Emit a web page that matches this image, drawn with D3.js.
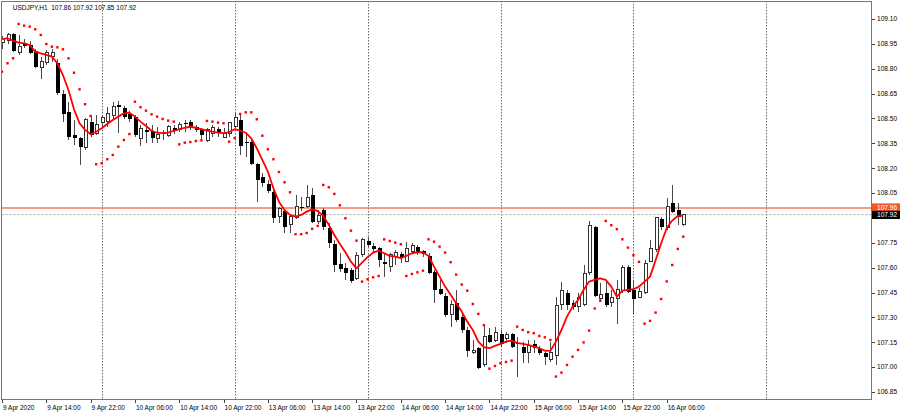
<!DOCTYPE html>
<html><head><meta charset="utf-8">
<script src="https://cdn.jsdelivr.net/npm/d3@7"></script>
<style>html,body{margin:0;padding:0;background:#fff;overflow:hidden}
svg{display:block;font-family:"Liberation Sans",Arial,sans-serif}</style>
</head><body><svg id="c" width="900" height="415"></svg>
<script>
// ---- DATA (USDJPY, H1) ----
const symbolTitle = "USDJPY,H1";
const lastBarText = "107.86 107.92 107.85 107.92";
const open = [
108.961,108.973,109.010,108.895,108.955,108.943,108.907,108.810,108.835,108.871,
108.835,108.648,108.539,108.400,108.382,108.322,108.479,108.412,108.473,108.479,
108.515,108.581,108.563,108.527,108.509,108.382,108.431,108.424,108.382,108.412,
108.400,108.443,108.431,108.473,108.479,108.449,108.437,108.370,108.412,108.437,
108.388,108.412,108.449,108.491,108.358,108.358,108.226,108.147,108.105,108.057,
107.906,107.942,107.858,107.900,107.966,107.966,108.039,107.876,107.948,107.840,
107.743,107.622,107.598,107.586,107.532,107.677,107.761,107.731,107.719,107.634,
107.610,107.665,107.683,107.640,107.695,107.725,107.701,107.671,107.574,107.472,
107.429,107.315,107.387,107.303,107.224,107.086,107.116,107.013,107.194,107.158,
107.200,107.170,107.200,107.146,107.122,107.086,107.140,107.110,107.086,107.049,
107.068,107.375,107.448,107.387,107.363,107.375,107.568,107.846,107.417,107.448,
107.387,107.417,107.460,107.604,107.466,107.423,107.448,107.640,107.707,107.894,
107.840,107.990,107.948,107.86];
const high = [
108.997,109.016,109.016,109.004,108.979,108.967,108.919,108.871,108.913,108.919,
108.859,108.672,108.600,108.491,108.388,108.503,108.509,108.521,108.521,108.569,
108.600,108.605,108.575,108.545,108.521,108.461,108.473,108.461,108.449,108.431,
108.461,108.461,108.479,108.491,108.491,108.461,108.443,108.443,108.461,108.449,
108.443,108.479,108.533,108.533,108.412,108.382,108.232,108.171,108.129,108.069,
107.966,107.948,107.918,108.039,108.026,108.099,108.081,107.948,107.960,107.870,
107.767,107.689,107.628,107.598,107.695,107.779,107.785,107.749,107.725,107.689,
107.689,107.707,107.695,107.755,107.749,107.737,107.707,107.689,107.586,107.526,
107.447,107.405,107.466,107.327,107.242,107.164,107.122,107.261,107.236,107.242,
107.224,107.212,107.206,107.182,107.152,107.164,107.164,107.128,107.104,107.152,
107.423,107.514,107.466,107.405,107.448,107.616,107.882,107.852,107.508,107.526,
107.466,107.526,107.616,107.616,107.526,107.478,107.647,107.767,107.906,107.906,
108.020,108.099,107.990,107.92];
const low = [
108.919,108.949,108.901,108.883,108.925,108.889,108.804,108.738,108.823,108.841,
108.642,108.479,108.370,108.340,108.220,108.310,108.388,108.400,108.443,108.449,
108.491,108.412,108.497,108.479,108.388,108.334,108.352,108.352,108.352,108.370,
108.388,108.406,108.418,108.418,108.431,108.418,108.370,108.358,108.388,108.388,
108.382,108.388,108.443,108.280,108.268,108.220,107.996,108.087,108.051,107.870,
107.870,107.809,107.809,107.894,107.942,107.960,107.870,107.864,107.827,107.719,
107.574,107.574,107.526,107.508,107.526,107.665,107.725,107.695,107.604,107.544,
107.574,107.616,107.628,107.634,107.683,107.677,107.665,107.562,107.387,107.436,
107.303,107.242,107.273,107.206,107.061,107.080,106.989,107.001,107.146,107.152,
107.122,107.146,107.116,106.941,107.025,107.025,107.086,107.074,107.013,107.031,
107.013,107.345,107.345,107.345,107.333,107.369,107.556,107.423,107.393,107.363,
107.363,107.261,107.448,107.448,107.321,107.417,107.442,107.634,107.695,107.827,
107.827,107.930,107.858,107.85];
const close = [
108.985,109.004,108.907,108.937,108.937,108.895,108.810,108.841,108.895,108.895,
108.654,108.527,108.388,108.382,108.328,108.491,108.400,108.461,108.503,108.527,
108.575,108.569,108.509,108.497,108.400,108.437,108.418,108.382,108.406,108.406,
108.449,108.424,108.461,108.470,108.455,108.431,108.400,108.431,108.443,108.412,
108.412,108.473,108.503,108.334,108.352,108.226,108.129,108.111,108.063,107.900,
107.954,107.846,107.906,107.966,107.960,108.026,107.876,107.912,107.846,107.749,
107.616,107.592,107.568,107.520,107.671,107.767,107.737,107.713,107.646,107.622,
107.677,107.689,107.659,107.713,107.731,107.689,107.683,107.568,107.466,107.441,
107.315,107.375,107.285,107.224,107.098,107.098,106.995,107.182,107.152,107.206,
107.140,107.194,107.122,107.140,107.086,107.128,107.116,107.086,107.062,107.086,
107.369,107.460,107.375,107.363,107.423,107.562,107.852,107.429,107.441,107.375,
107.423,107.466,107.598,107.454,107.411,107.454,107.628,107.713,107.900,107.846,
107.966,107.936,107.906,107.92];
// red moving average line
const maValues = [
108.979,108.984,108.969,108.957,108.953,108.943,108.903,108.893,108.883,108.873,
108.833,108.762,108.672,108.555,108.471,108.431,108.405,108.420,108.441,108.467,
108.491,108.511,108.531,108.535,108.511,108.481,108.455,108.426,108.414,108.411,
108.414,108.425,108.435,108.444,108.450,108.444,108.435,108.426,108.420,108.414,
108.411,108.417,108.435,108.426,108.414,108.380,108.320,108.250,108.179,108.079,
107.998,107.948,107.918,107.908,107.918,107.938,107.952,107.942,107.912,107.858,
107.797,107.743,107.693,107.636,107.596,107.630,107.663,107.691,107.703,107.687,
107.671,107.667,107.657,107.671,107.687,107.693,107.693,107.671,107.606,107.546,
107.486,107.436,107.385,107.335,107.274,107.224,107.154,107.120,107.114,107.128,
107.140,107.154,107.160,107.146,107.140,107.134,107.124,107.114,107.100,107.098,
107.154,107.224,107.305,107.365,107.405,107.466,107.516,107.526,107.536,107.526,
107.486,107.425,107.461,107.466,107.470,107.486,107.516,107.546,107.645,107.747,
107.838,107.884,107.912,107.914];
// parabolic SAR dots
const sarValues = [
108.782,108.833,108.863,109.070,109.060,109.054,109.038,109.004,108.949,108.933,
108.929,108.917,108.863,108.776,108.676,108.586,108.515,108.224,108.230,108.254,
108.280,108.330,108.370,108.406,108.601,108.568,108.547,108.525,108.511,108.497,
108.487,108.481,108.344,108.354,108.358,108.364,108.368,108.485,108.481,108.475,
108.471,108.360,108.382,108.527,108.537,108.537,108.495,108.396,108.314,108.254,
108.177,108.115,108.055,107.802,107.802,107.809,107.834,107.852,108.099,108.085,
108.045,107.976,107.898,107.823,107.763,107.516,107.530,107.542,107.550,107.771,
107.761,107.751,107.741,107.550,107.562,107.572,107.582,107.771,107.757,107.727,
107.691,107.633,107.558,107.498,107.461,107.381,107.321,107.253,106.991,107.007,
107.024,107.031,107.039,107.244,107.224,107.211,107.205,107.188,107.180,107.164,
106.943,106.967,107.013,107.063,107.104,107.149,107.220,107.354,107.401,107.882,
107.856,107.832,107.771,107.721,107.675,107.635,107.262,107.279,107.329,107.411,
107.517,107.616,107.713,107.787];
const bidPrice = 107.92, askPrice = 107.96;
const yTicks = [109.10,108.95,108.80,108.65,108.50,108.35,108.20,108.05,107.90,107.75,107.60,107.45,107.30,107.15,107.00,106.85];
const xTickLabels = ["9 Apr 2020","9 Apr 14:00","9 Apr 22:00","10 Apr 06:00","10 Apr 14:00","10 Apr 22:00",
 "13 Apr 06:00","13 Apr 14:00","13 Apr 22:00","14 Apr 06:00","14 Apr 14:00","14 Apr 22:00",
 "15 Apr 06:00","15 Apr 14:00","15 Apr 22:00","16 Apr 06:00"];
const xTickEvery = 8; // bars between time labels

// bar times (hourly, forex week: weekend skipped) - categories
const barTimes = [];
{ let t = Date.UTC(2020,3,9,6);
  while (barTimes.length < 170) {
    const d = new Date(t);
    if (d.getUTCDay() === 6 || d.getUTCDay() === 0) { t += 3600e3; continue; }
    barTimes.push(d); t += 3600e3;
  } }

// ---- CHART ----
const n = close.length;
const svg = d3.select("#c");
const P = {l:1, t:1, r:872, b:400};
const x = d3.scaleLinear().domain([0, 123]).range([2, 683.3]);
const y = d3.scaleLinear().domain([106.85, 109.10]).range([392, 19]);

svg.append("rect").attr("width",900).attr("height",415).attr("fill","#fff");
svg.append("defs").append("clipPath").attr("id","clip")
  .append("rect").attr("x",P.l).attr("y",P.t).attr("width",P.r-P.l).attr("height",P.b-P.t);
const g = svg.append("g").attr("clip-path","url(#clip)");

// day separators (dotted grid)
const dayIdx = barTimes.map((d,i)=>d.getUTCHours()===0 ? i : -1).filter(i=>i>=0 && x(i) < P.r);
g.selectAll("line.grid").data(dayIdx).join("line")
  .attr("x1",d=>Math.round(x(d))+0.5).attr("x2",d=>Math.round(x(d))+0.5)
  .attr("y1",P.t).attr("y2",P.b)
  .attr("stroke","#6a6a6a").attr("stroke-width",1).attr("stroke-dasharray","1.5,1.5");

// bid / ask lines
g.append("line").attr("x1",P.l).attr("x2",P.r).attr("y1",y(askPrice)).attr("y2",y(askPrice))
  .attr("stroke","#f37a5e").attr("stroke-width",1.6);
g.append("line").attr("x1",P.l).attr("x2",P.r).attr("y1",y(bidPrice)).attr("y2",y(bidPrice))
  .attr("stroke","#bdbdbd").attr("stroke-width",1).attr("stroke-dasharray","3,1");

// candles
const bars = d3.range(n);
const cg = g.append("g").attr("shape-rendering","crispEdges");
cg.selectAll("line.wick").data(bars).join("line")
  .attr("x1",i=>Math.round(x(i))+0.5).attr("x2",i=>Math.round(x(i))+0.5)
  .attr("y1",i=>y(high[i])).attr("y2",i=>y(low[i]))
  .attr("stroke","#4a4a4a").attr("stroke-width",1);
cg.selectAll("rect.body").data(bars).join("rect")
  .attr("x",i=> close[i]>=open[i] ? Math.round(x(i))-1+0.5 : Math.round(x(i))-1.5)
  .attr("width",i=> close[i]>=open[i] ? 3 : 4)
  .attr("y",i=>y(Math.max(open[i],close[i])))
  .attr("height",i=>Math.max(1, Math.abs(y(open[i])-y(close[i]))))
  .attr("fill",i=> close[i]>=open[i] ? "#fff" : "#000")
  .attr("stroke",i=> close[i]>=open[i] ? "#333" : "none")
  .attr("stroke-width",1);

// moving average
g.append("path").datum(bars)
  .attr("d", d3.line().x(i=>x(i)).y(i=>y(maValues[i])))
  .attr("fill","none").attr("stroke","#ff0000").attr("stroke-width",1.8).attr("stroke-linejoin","round");

// parabolic SAR
g.selectAll("rect.sar").data(bars).join("rect")
  .attr("x",i=>x(i)-1.2).attr("y",i=>y(sarValues[i])-1.2)
  .attr("width",2.4).attr("height",2.4).attr("fill","#ff0000");

// frame
svg.append("rect").attr("x",P.l+0.5).attr("y",P.t+0.5).attr("width",P.r-P.l-1).attr("height",P.b-P.t-1)
  .attr("fill","none").attr("stroke","#777").attr("stroke-width",1).attr("shape-rendering","crispEdges");

// right price axis (labels hidden under the current-price label, as in the terminal)
const ya = svg.append("g");
ya.selectAll("line").data(yTicks).join("line")
  .attr("x1",P.r).attr("x2",P.r+3).attr("y1",d=>Math.round(y(d))+0.5).attr("y2",d=>Math.round(y(d))+0.5)
  .attr("stroke","#444");
ya.selectAll("text").data(yTicks.filter(d=>Math.abs(y(d)-y(bidPrice))>7 && Math.abs(y(d)-y(askPrice))>7)).join("text")
  .attr("x",P.r+5).attr("y",d=>y(d)+2.3).attr("font-size","6.6px").attr("fill","#000")
  .text(d=>d.toFixed(2));

// bottom time axis
const xa = svg.append("g");
xa.selectAll("line").data(xTickLabels).join("line")
  .attr("x1",(d,k)=>Math.round(x(k*xTickEvery))+0.5).attr("x2",(d,k)=>Math.round(x(k*xTickEvery))+0.5)
  .attr("y1",P.b).attr("y2",P.b+3).attr("stroke","#444");
xa.selectAll("text").data(xTickLabels).join("text")
  .attr("x",(d,k)=>x(k*xTickEvery)+1).attr("y",409.8).attr("font-size","6.5px").attr("fill","#000")
  .text(d=>d);

// current price labels
svg.append("rect").attr("x",P.r).attr("y",y(askPrice)-4.6).attr("width",28).attr("height",8.6).attr("fill","#f4562c");
svg.append("text").attr("x",P.r+5).attr("y",y(askPrice)+2.3).attr("font-size","6.6px").attr("fill","#fff").text(askPrice.toFixed(2));
svg.append("rect").attr("x",P.r).attr("y",y(bidPrice)-3.8).attr("width",28).attr("height",8.2).attr("fill","#000");
svg.append("text").attr("x",P.r+5).attr("y",y(bidPrice)+2.4).attr("font-size","6.6px").attr("fill","#fff").text(bidPrice.toFixed(2));

// header
svg.append("text").attr("x",12.7).attr("y",9.7).attr("font-size","6.5px").attr("fill","#000")
  .style("white-space","pre").text(symbolTitle + "  " + lastBarText);
</script></body></html>
